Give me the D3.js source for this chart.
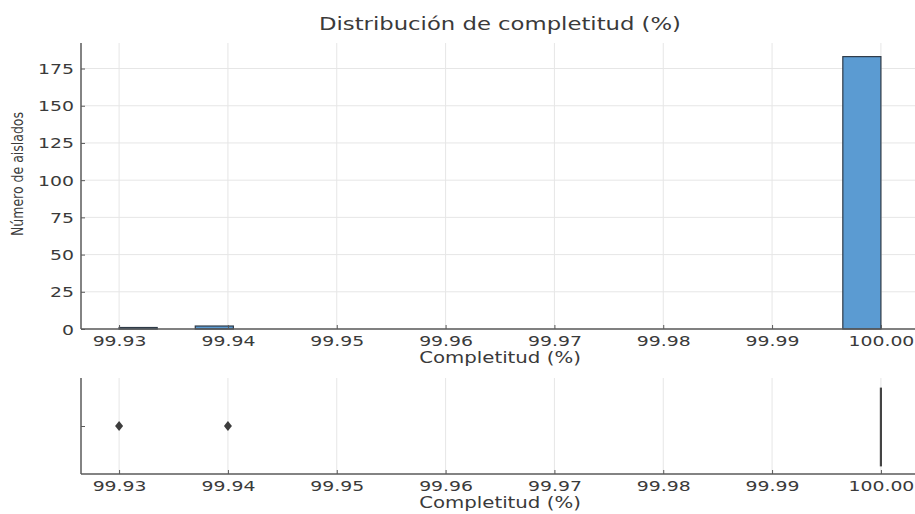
<!DOCTYPE html>
<html>
<head>
<meta charset="utf-8">
<script src="https://cdn.jsdelivr.net/npm/d3@7"></script>
<style>
  body { margin: 0; background: #ffffff; }
  text { font-family: "DejaVu Sans", sans-serif; fill: #3a3a3a; }
</style>
</head>
<body>
<svg id="chart" width="915" height="514"></svg>
<script>
// Histogram bins of completeness (%) and isolate counts per bin
const binEdges = [99.93, 99.9335, 99.937, 99.9405, 99.944, 99.9475, 99.951, 99.9545,
  99.958, 99.9615, 99.965, 99.9685, 99.972, 99.9755, 99.979, 99.9825, 99.986,
  99.9895, 99.993, 99.9965, 100.0];
const binCounts = [1, 0, 2, 0, 0, 0, 0, 0, 0, 0, 0, 0, 0, 0, 0, 0, 0, 0, 0, 183];

// Box plot summary of the same values
const boxQ1 = 100.0, boxMedian = 100.0, boxQ3 = 100.0;
const whiskerLow = 100.0, whiskerHigh = 100.0;
const outliers = [99.93, 99.94];

const xTicks = [99.93, 99.94, 99.95, 99.96, 99.97, 99.98, 99.99, 100.0];
const yTicks = [0, 25, 50, 75, 100, 125, 150, 175];

const titleText = "Distribución de completitud (%)";
const xLabelText = "Completitud (%)";
const yLabelText = "Número de aislados";

const svg = d3.select("#chart");
const SX = 1.3;               // horizontal text stretch
const gridColor = "#e6e6e6";
const spineColor = "#5a5a5a";

const xMin = binEdges[0], xMax = binEdges[binEdges.length - 1];
const xPad = (xMax - xMin) * 0.05;
const x = d3.scaleLinear().domain([xMin - xPad, xMax + xPad]).range([81, 919]);

const yMax = d3.max(binCounts) * 1.05;
const yTop = d3.scaleLinear().domain([0, yMax]).range([329, 43]);
const yBox = d3.scaleLinear().domain([-0.5, 0.5]).range([378, 474]);

function stretchedText(g, tx, ty, str, size, anchor, rotate) {
  return g.append("text")
    .attr("transform", `translate(${tx},${ty}) scale(${SX},1)` + (rotate ? ` rotate(${rotate})` : ""))
    .attr("text-anchor", anchor)
    .style("font-size", size + "px")
    .text(str);
}

// ---------- Upper panel: histogram ----------
const histPanel = svg.append("g");

// grid
histPanel.append("g").selectAll("line").data(xTicks).join("line")
  .attr("x1", d => x(d)).attr("x2", d => x(d))
  .attr("y1", yTop.range()[1]).attr("y2", yTop.range()[0])
  .attr("stroke", gridColor).attr("stroke-width", 1);
histPanel.append("g").selectAll("line").data(yTicks).join("line")
  .attr("x1", x.range()[0]).attr("x2", x.range()[1])
  .attr("y1", d => yTop(d)).attr("y2", d => yTop(d))
  .attr("stroke", gridColor).attr("stroke-width", 1);

// bars
const bins = binCounts.map((c, i) => ({ x0: binEdges[i], x1: binEdges[i + 1], count: c }));
histPanel.append("g").selectAll("rect").data(bins.filter(b => b.count > 0)).join("rect")
  .attr("x", d => x(d.x0))
  .attr("width", d => x(d.x1) - x(d.x0))
  .attr("y", d => yTop(d.count))
  .attr("height", d => yTop(0) - yTop(d.count))
  .attr("fill", "#5b9bd2")
  .attr("stroke", "#2f3b48")
  .attr("stroke-width", 1.2);

// axes
const xAxisTop = histPanel.append("g").attr("transform", `translate(0,${yTop(0)})`)
  .call(d3.axisBottom(x).tickValues(xTicks).tickFormat(d3.format(".2f")).tickSizeInner(-4).tickSizeOuter(0));
const yAxisTop = histPanel.append("g").attr("transform", `translate(${x.range()[0]},0)`)
  .call(d3.axisLeft(yTop).tickValues(yTicks).tickSizeInner(-4).tickSizeOuter(0));

[xAxisTop, yAxisTop].forEach(a => {
  a.select(".domain").attr("stroke", spineColor).attr("stroke-width", 1.5);
  a.selectAll(".tick line").attr("stroke", spineColor);
});
yAxisTop.select(".domain").attr("d", `M0,${yTop(0)}V${yTop.range()[1]}`);
xAxisTop.select(".domain").attr("d", `M${x.range()[0]},0H${x.range()[1]}`);

xAxisTop.selectAll(".tick text")
  .attr("y", null).attr("dy", null)
  .attr("transform", `translate(0,17) scale(${SX},1)`)
  .style("font-size", "14.5px").attr("fill", "#3a3a3a");
yAxisTop.selectAll(".tick text")
  .attr("x", null).attr("dy", null)
  .attr("transform", `translate(-7,5) scale(${SX},1)`)
  .style("font-size", "14.5px").attr("fill", "#3a3a3a");

stretchedText(histPanel, 500, 30, titleText, 17.5, "middle");
stretchedText(histPanel, 500, 363, xLabelText, 15.2, "middle");
stretchedText(histPanel, 23, 174, yLabelText, 12.5, "middle", -90);

// ---------- Lower panel: box plot ----------
const boxPanel = svg.append("g");

boxPanel.append("g").selectAll("line").data(xTicks).join("line")
  .attr("x1", d => x(d)).attr("x2", d => x(d))
  .attr("y1", yBox.range()[0]).attr("y2", yBox.range()[1])
  .attr("stroke", gridColor).attr("stroke-width", 1);

const boxColor = "#444444";
// whiskers
boxPanel.append("line")
  .attr("x1", x(whiskerLow)).attr("x2", x(boxQ1))
  .attr("y1", yBox(0)).attr("y2", yBox(0))
  .attr("stroke", boxColor).attr("stroke-width", 1.5);
boxPanel.append("line")
  .attr("x1", x(boxQ3)).attr("x2", x(whiskerHigh))
  .attr("y1", yBox(0)).attr("y2", yBox(0))
  .attr("stroke", boxColor).attr("stroke-width", 1.5);
// box
boxPanel.append("rect")
  .attr("x", x(boxQ1)).attr("width", x(boxQ3) - x(boxQ1))
  .attr("y", yBox(-0.4)).attr("height", yBox(0.4) - yBox(-0.4) + 2)
  .attr("fill", "#5b9bd2").attr("stroke", boxColor).attr("stroke-width", 2.2);
// median
boxPanel.append("line")
  .attr("x1", x(boxMedian)).attr("x2", x(boxMedian))
  .attr("y1", yBox(-0.4)).attr("y2", yBox(0.4) + 2)
  .attr("stroke", boxColor).attr("stroke-width", 2.2);
// outliers
boxPanel.append("g").selectAll("path").data(outliers).join("path")
  .attr("transform", d => `translate(${x(d)},${yBox(0)})`)
  .attr("d", "M0,-5L4,0L0,5L-4,0Z")
  .attr("fill", "#3d3d3d");

const xAxisBot = boxPanel.append("g").attr("transform", `translate(0,${yBox.range()[1]})`)
  .call(d3.axisBottom(x).tickValues(xTicks).tickFormat(d3.format(".2f")).tickSizeInner(-4).tickSizeOuter(0));
const yAxisBot = boxPanel.append("g").attr("transform", `translate(${x.range()[0]},0)`)
  .call(d3.axisLeft(yBox).tickValues([0]).tickFormat("").tickSizeInner(-4).tickSizeOuter(0));
[xAxisBot, yAxisBot].forEach(a => {
  a.select(".domain").attr("stroke", spineColor).attr("stroke-width", 1.5);
  a.selectAll(".tick line").attr("stroke", spineColor);
});
xAxisBot.select(".domain").attr("d", `M${x.range()[0]},0H${x.range()[1]}`);
yAxisBot.select(".domain").attr("d", `M0,${yBox.range()[1]}V${yBox.range()[0]}`);
xAxisBot.selectAll(".tick text")
  .attr("y", null).attr("dy", null)
  .attr("transform", `translate(0,17) scale(${SX},1)`)
  .style("font-size", "14.5px").attr("fill", "#3a3a3a");

stretchedText(boxPanel, 500, 508, xLabelText, 15.2, "middle");
</script>
</body>
</html>
